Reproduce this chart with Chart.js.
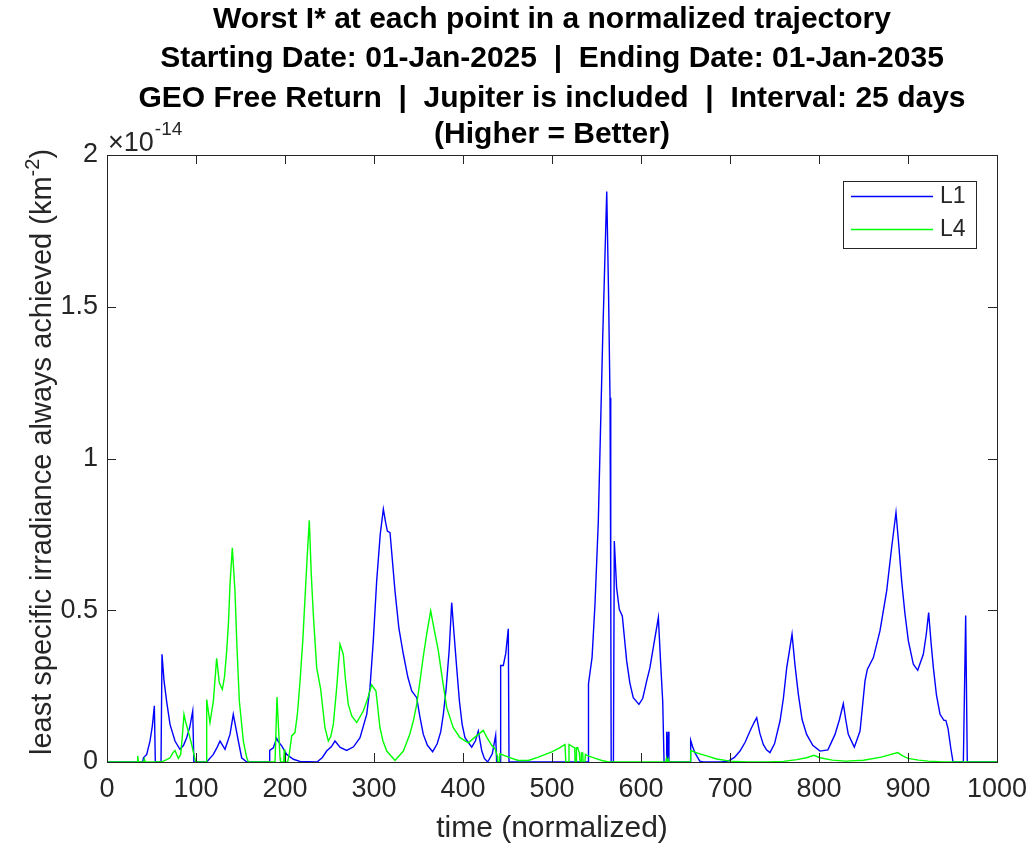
<!DOCTYPE html>
<html>
<head>
<meta charset="utf-8">
<script src="https://cdn.jsdelivr.net/npm/chart.js@4/dist/chart.umd.min.js"></script>
<style>
  html, body { margin: 0; padding: 0; background: #fff; }
</style>
</head>
<body>
<canvas id="chart" width="1032" height="849"></canvas>
<script>
// titles and ticks
const titleLines = [
  'Worst I* at each point in a normalized trajectory',
  'Starting Date: 01-Jan-2025  |  Ending Date: 01-Jan-2035',
  'GEO Free Return  |  Jupiter is included  |  Interval: 25 days',
  '(Higher = Better)'
];
const xTicks = [0, 100, 200, 300, 400, 500, 600, 700, 800, 900, 1000];
const yTicks = [0, 0.5, 1, 1.5, 2];   // x 10^-14
const seriesNames = ['L1', 'L4'];

// L1 (blue): time, value (x 10^-14)
const l1T = [0, 40, 41, 44.6, 48.3, 51, 53.2, 54.3, 60.7, 61.8, 64, 67, 70.8, 76.4, 82, 86, 89.5, 93, 96.3, 97.6,
  112, 119.5, 124, 127, 132.6, 138.2, 141.9, 147.6, 151.3, 157, 182.4, 182.8, 186.9, 190.6, 193, 196.3, 201.9, 209.4, 216.9,
  236, 242, 246.8, 252, 256.2, 262, 269.3, 277, 284.3, 291.8, 295.5, 299.2, 303, 307, 310.5, 313, 315, 318, 323.6, 328,
  333, 338, 342.4, 348, 351.5, 355.4, 360, 365.9, 371, 375, 377.9, 381, 384.5, 387.3, 390, 392.9, 396, 399, 402.2, 409.8,
  414, 417.2, 421, 424, 427.7, 432.9, 436.7, 437.8, 441.6, 442.3, 445.3, 448, 450.9, 451.7,
  540.5, 541, 545, 548.3, 552, 557, 561.5, 563.5, 565.2, 566, 566.5, 569, 570, 572.6, 575.6, 579, 583.9, 587.5, 591.3,
  597.7, 602, 606.4, 610, 613.8, 619.5, 622, 624.4, 625.9, 628.3, 628.9, 629.5, 630.3, 630.8, 631.4,
  655.5, 655.8, 658, 660.7, 666, 670, 690, 698, 705, 711.2, 717, 722.5, 727, 730, 733.5, 737.4, 741, 744.9, 750, 756.2,
  760, 763.7, 767, 769.7, 773, 776.8, 781, 786.1, 793, 801.1, 810, 818, 823, 827.3, 830, 832.9, 839.7, 846.1, 851.7,
  854.3, 861.1, 868.5, 876, 881.6, 886.5, 889.5, 892.9, 896.5, 900.4, 906, 910.9, 917.2, 920.5, 923.2, 926, 928.5, 932,
  936, 940.4, 942.5, 945, 948, 950.6, 962.2, 964.8, 966.6, 1000];
const l1V = [0, 0, 0.014, 0.025, 0.069, 0.12, 0.185, 0, 0, 0.355, 0.27, 0.2, 0.124, 0.069, 0.042, 0.055, 0.08, 0.115, 0.168, 0,
  0, 0.025, 0.05, 0.069, 0.042, 0.091, 0.157, 0.069, 0.014, 0, 0, 0.038, 0.047, 0.078, 0.065, 0.053, 0.025, 0.009, 0.002,
  0, 0.015, 0.036, 0.05, 0.069, 0.048, 0.038, 0.05, 0.08, 0.157, 0.245, 0.399, 0.596, 0.75, 0.833, 0.79, 0.761, 0.756, 0.563, 0.44,
  0.355, 0.28, 0.234, 0.212, 0.15, 0.091, 0.055, 0.034, 0.06, 0.1, 0.157, 0.24, 0.37, 0.525, 0.42, 0.311, 0.2, 0.125, 0.08, 0.049,
  0.07, 0.102, 0.038, 0.012, 0, 0.027, 0.088, 0, 0, 0.318, 0.318, 0.357, 0.439, 0,
  0, 0.258, 0.344, 0.52, 0.79, 1.40, 1.88, 1.55, 1.2, 0.6, 0, 0, 0.728, 0.574, 0.503, 0.481, 0.333, 0.26, 0.212,
  0.19, 0.21, 0.267, 0.31, 0.377, 0.476, 0.33, 0.2, 0, 0, 0.1, 0, 0, 0.1, 0,
  0, 0.071, 0.05, 0.03, 0.003, 0, 0, 0.003, 0.015, 0.036, 0.065, 0.102, 0.13, 0.146, 0.095, 0.058, 0.04, 0.031, 0.06, 0.135,
  0.21, 0.31, 0.37, 0.421, 0.32, 0.223, 0.14, 0.091, 0.055, 0.036, 0.04, 0.091, 0.14, 0.192, 0.14, 0.091, 0.049, 0.102, 0.267,
  0.305, 0.344, 0.432, 0.563, 0.706, 0.822, 0.72, 0.596, 0.49, 0.399, 0.322, 0.302, 0.355, 0.42, 0.492, 0.39, 0.311, 0.22,
  0.157, 0.137, 0.137, 0.11, 0.047, 0, 0, 0.483, 0, 0];

// L4 (green)
const l4T = [0, 34, 34.5, 35.2, 41.5, 42, 43, 60, 63.3, 67, 70.8, 74, 76.4, 80.1, 82.8, 84.5, 86.5, 88.5, 90.2, 95.1, 98.9, 99.8,
  111.6, 112, 115.7, 119.5, 123.2, 126.2, 129.6, 132, 134.5, 136.5, 138.2, 140.8, 143.8, 146, 148.7, 153.2, 157, 159,
  188.8, 191, 194.4, 195, 198.5, 199.2, 199.8, 203, 205, 207.5, 211.2, 214, 216.9, 220, 222.5, 225, 227.3, 229.5, 231.8,
  235.6, 240.1, 244.9, 248.7, 251.5, 254.3, 258.1, 261.8, 265.5, 268, 271.1, 275, 280.6, 288, 293, 297.4, 302.2, 306.7,
  310, 314.3, 323.6, 333, 340, 344.2, 348, 351.7, 355.5, 359.2, 363.7, 368, 372.3, 377, 381.7, 389.1, 396.6, 406, 413.5,
  422.8, 427, 432.2, 436, 438.5, 439, 441, 441.6, 451, 462, 473.4, 484.6, 499.7, 508, 514.6, 515.5, 518.5, 519.1, 524,
  525.5, 526, 527, 527.5, 528.8, 530.7, 531.5, 532.8, 533, 534.5, 535, 537, 537.5, 539.3, 548.7, 556, 563.7,
  628, 628.5, 629, 630.5, 631, 655.5, 655.8, 660, 666, 673.8, 685, 700, 720, 740, 760, 775, 786, 794.4, 801, 815, 830,
  850, 870, 888.4, 894, 900, 912, 923, 940, 1000];
const l4V = [0, 0, 0.02, 0, 0, 0.009, 0, 0, 0.003, 0.008, 0.014, 0.03, 0.038, 0.012, 0.025, 0.08, 0.157, 0.13, 0.113, 0.058, 0.009, 0,
  0, 0.206, 0.13, 0.2, 0.342, 0.261, 0.239, 0.28, 0.366, 0.46, 0.585, 0.706, 0.563, 0.38, 0.201, 0.069, 0.014, 0,
  0, 0.214, 0.014, 0, 0, 0.042, 0, 0, 0.03, 0.086, 0.097, 0.16, 0.267, 0.4, 0.541, 0.68, 0.796, 0.62, 0.487,
  0.311, 0.239, 0.113, 0.069, 0.085, 0.124, 0.245, 0.388, 0.355, 0.27, 0.19, 0.152, 0.13, 0.168, 0.21, 0.254, 0.234, 0.113,
  0.07, 0.036, 0.005, 0.036, 0.09, 0.135, 0.19, 0.267, 0.35, 0.421, 0.498, 0.43, 0.366, 0.27, 0.179, 0.113, 0.08, 0.063, 0.082,
  0.104, 0.08, 0.055, 0.044, 0.02, 0, 0, 0.027, 0.016, 0.005, 0.005, 0.016, 0.033, 0.046, 0.058, 0, 0, 0.058, 0.049,
  0.047, 0, 0, 0.047, 0.047, 0.03, 0, 0, 0.03, 0.03, 0, 0, 0.025, 0.022, 0.012, 0.005, 0,
  0, 0.01, 0, 0.01, 0, 0, 0.038, 0.033, 0.027, 0.02, 0.01, 0.003, 0, 0, 0.002, 0.008, 0.014, 0.022, 0.014, 0.006, 0.003,
  0.006, 0.016, 0.031, 0.02, 0.012, 0.006, 0.003, 0, 0];

const FONT = "'Liberation Sans', Arial, Helvetica, sans-serif";
const INK = '#262626';
const colors = ['#0000ff', '#00ff00'];

const toPts = (ts, vs) => ts.map((t, i) => ({ x: t, y: vs[i] }));

// box, inward ticks, titles, axis labels, legend
const decor = {
  id: 'decor',
  afterDraw(chart) {
    const { ctx, chartArea: a, scales: { x, y } } = chart;
    ctx.save();
    ctx.strokeStyle = INK;
    ctx.lineWidth = 1;
    ctx.strokeRect(a.left + 0.5, a.top + 0.5, a.right - a.left, a.bottom - a.top);
    ctx.beginPath();
    xTicks.forEach(v => {
      const px = Math.round(x.getPixelForValue(v)) + 0.5;
      ctx.moveTo(px, a.bottom); ctx.lineTo(px, a.bottom - 9);
      ctx.moveTo(px, a.top);    ctx.lineTo(px, a.top + 9);
    });
    yTicks.forEach(v => {
      const py = Math.round(y.getPixelForValue(v)) + 0.5;
      ctx.moveTo(a.left, py);  ctx.lineTo(a.left + 9, py);
      ctx.moveTo(a.right, py); ctx.lineTo(a.right - 9, py);
    });
    ctx.stroke();

    // title
    const cx = (a.left + a.right) / 2;
    ctx.fillStyle = '#000';
    ctx.font = `bold 30px ${FONT}`;
    ctx.textAlign = 'center';
    ctx.textBaseline = 'middle';
    [18, 57, 97, 133].forEach((ty, i) => ctx.fillText(titleLines[i], cx, ty + 2));

    // x label
    ctx.fillStyle = INK;
    ctx.font = `30px ${FONT}`;
    ctx.fillText('time (normalized)', cx, 829);

    // y label with superscript
    ctx.save();
    ctx.translate(41, 452);
    ctx.rotate(-Math.PI / 2);
    ctx.textAlign = 'left';
    ctx.textBaseline = 'alphabetic';
    const p1 = 'least specific irradiance always achieved (km', sup = '-2', p3 = ')';
    ctx.font = `29px ${FONT}`;
    const w1 = ctx.measureText(p1).width, w3 = ctx.measureText(p3).width;
    ctx.font = `20px ${FONT}`;
    const w2 = ctx.measureText(sup).width;
    const sx = -(w1 + w2 + w3) / 2;
    ctx.font = `29px ${FONT}`;
    ctx.fillText(p1, sx, 10);
    ctx.font = `20px ${FONT}`;
    ctx.fillText(sup, sx + w1, -2);
    ctx.font = `29px ${FONT}`;
    ctx.fillText(p3, sx + w1 + w2, 10);
    ctx.restore();

    // exponent
    ctx.textAlign = 'left';
    ctx.textBaseline = 'alphabetic';
    ctx.font = `27px ${FONT}`;
    ctx.fillText('\u00d710', a.left + 1, 151);
    const wx = ctx.measureText('\u00d710').width;
    ctx.font = `19px ${FONT}`;
    ctx.fillText('-14', a.left + 2 + wx, 135);

    // legend
    ctx.fillStyle = '#fff';
    ctx.fillRect(843, 181, 133, 67);
    ctx.strokeStyle = INK;
    ctx.lineWidth = 1;
    ctx.strokeRect(843.5, 181.5, 133, 67);
    ctx.font = `23px ${FONT}`;
    ctx.textBaseline = 'middle';
    [196, 229].forEach((ly, i) => {
      ctx.strokeStyle = colors[i];
      ctx.lineWidth = 1.4;
      ctx.beginPath(); ctx.moveTo(851, ly + 0.5); ctx.lineTo(933, ly + 0.5); ctx.stroke();
      ctx.fillStyle = INK;
      ctx.fillText(seriesNames[i], 940, ly + 1);
    });
    ctx.restore();
  }
};

new Chart(document.getElementById('chart'), {
  type: 'line',
  data: {
    datasets: [
      { label: seriesNames[0], data: toPts(l1T, l1V), borderColor: colors[0], borderWidth: 1.4, order: 1 },
      { label: seriesNames[1], data: toPts(l4T, l4V), borderColor: colors[1], borderWidth: 1.4, order: 0 }
    ]
  },
  options: {
    responsive: false,
    animation: false,
    devicePixelRatio: 1,
    elements: { point: { radius: 0 }, line: { tension: 0, fill: false } },
    layout: { padding: { top: 155, right: 35, bottom: 0, left: 0 } },
    plugins: { legend: { display: false }, tooltip: { enabled: false }, title: { display: false } },
    scales: {
      x: {
        type: 'linear', min: 0, max: 1000,
        afterBuildTicks: s => { s.ticks = xTicks.map(v => ({ value: v })); },
        afterFit: s => { s.height = 87; s.paddingLeft = 0; s.paddingRight = 0; },
        grid: { display: false, drawTicks: false },
        border: { display: false },
        ticks: { font: { family: FONT, size: 27 }, color: INK, padding: 11, maxRotation: 0, autoSkip: false,
                 callback: v => String(v) }
      },
      y: {
        type: 'linear', min: 0, max: 2,
        afterBuildTicks: s => { s.ticks = yTicks.map(v => ({ value: v })); },
        afterFit: s => { s.width = 107; s.paddingTop = 0; s.paddingBottom = 0; },
        grid: { display: false, drawTicks: false },
        border: { display: false },
        ticks: { font: { family: FONT, size: 27 }, color: INK, padding: 9, callback: v => String(v) }
      }
    }
  },
  plugins: [decor]
});
</script>
</body>
</html>
